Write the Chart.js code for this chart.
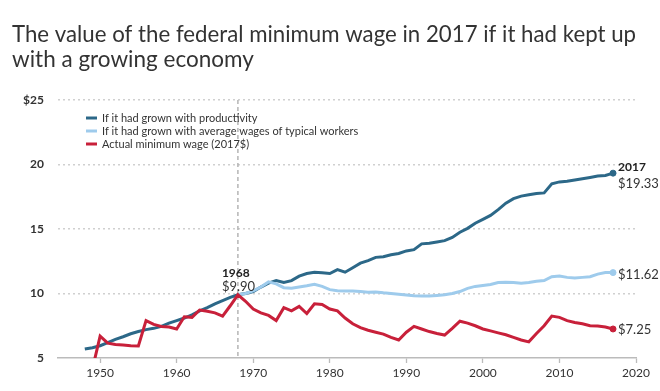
<!DOCTYPE html>
<html>
<head>
<meta charset="utf-8">
<script src="https://cdn.jsdelivr.net/npm/chart.js@4.4.1/dist/chart.umd.min.js"></script>
<style>
  body { margin: 0; background: #fff; }
  #wrap { width: 660px; height: 391px; position: relative; }
</style>
</head>
<body>
<div id="wrap"><canvas id="myChart"></canvas></div>
<script>
// values in 2017 dollars
const years = [
  1948, 1949, 1950, 1951, 1952, 1953, 1954, 1955, 1956, 1957,
  1958, 1959, 1960, 1961, 1962, 1963, 1964, 1965, 1966, 1967,
  1968, 1969, 1970, 1971, 1972, 1973, 1974, 1975, 1976, 1977,
  1978, 1979, 1980, 1981, 1982, 1983, 1984, 1985, 1986, 1987,
  1988, 1989, 1990, 1991, 1992, 1993, 1994, 1995, 1996, 1997,
  1998, 1999, 2000, 2001, 2002, 2003, 2004, 2005, 2006, 2007,
  2008, 2009, 2010, 2011, 2012, 2013, 2014, 2015, 2016, 2017
];

const productivity = [
  5.7, 5.8, 5.95, 6.2, 6.45, 6.65, 6.88, 7.05, 7.2, 7.3,
  7.45, 7.7, 7.9, 8.1, 8.35, 8.65, 8.9, 9.2, 9.45, 9.7,
  9.9, 10.0, 10.15, 10.5, 10.8, 11.0, 10.85, 11.0, 11.35, 11.55,
  11.65, 11.6, 11.55, 11.85, 11.65, 12.0, 12.35, 12.55, 12.8, 12.85,
  13.0, 13.1, 13.3, 13.4, 13.85, 13.9, 14.0, 14.1, 14.35, 14.75,
  15.05, 15.45, 15.75, 16.05, 16.5, 17.0, 17.35, 17.55, 17.65, 17.75,
  17.8, 18.5, 18.65, 18.7, 18.8, 18.9, 19.0, 19.1, 19.15, 19.33
];

const typicalWages = [
  null, null, null, null, null, null, null, null, null, null,
  null, null, null, null, null, null, null, null, null, null,
  9.9, 10.0, 10.2, 10.5, 10.9, 10.75, 10.45, 10.4, 10.5, 10.6,
  10.72, 10.55, 10.3, 10.22, 10.2, 10.2, 10.15, 10.1, 10.12, 10.05,
  10.0, 9.95, 9.88, 9.82, 9.8, 9.8, 9.85, 9.9, 10.0, 10.15,
  10.4, 10.55, 10.62, 10.7, 10.85, 10.88, 10.85, 10.8, 10.85, 10.95,
  11.0, 11.3, 11.35, 11.25, 11.2, 11.25, 11.3, 11.5, 11.62, 11.62
];

const minimumWage = [
  null, 4.15, 6.7, 6.15, 6.05, 6.0, 5.95, 5.93, 7.9, 7.6,
  7.45, 7.4, 7.25, 8.2, 8.15, 8.72, 8.62, 8.5, 8.25, 9.05,
  9.9, 9.4, 8.8, 8.5, 8.3, 7.9, 8.9, 8.65, 9.0, 8.45,
  9.2, 9.15, 8.8, 8.65, 8.1, 7.65, 7.35, 7.15, 7.0, 6.85,
  6.6, 6.4, 7.0, 7.45, 7.25, 7.05, 6.9, 6.78, 7.3, 7.85,
  7.7, 7.5, 7.25, 7.1, 6.95, 6.8, 6.6, 6.4, 6.25, 6.9,
  7.5, 8.25, 8.15, 7.9, 7.75, 7.65, 7.5, 7.48, 7.4, 7.25
];

const seriesLabels = [
  'If it had grown with productivity',
  'If it had grown with average wages of typical workers',
  'Actual minimum wage (2017$)'
];
const seriesColors = ['#2c6888', '#9ecbec', '#c8203a'];

const xTicks = [1950, 1960, 1970, 1980, 1990, 2000, 2010, 2020];
const yTicks = [5, 10, 15, 20, 25];

const markYear = 1968;
const endYear = 2017;

const FONT = 'Lato, "Open Sans", sans-serif';

function toPoints(values) {
  let pts = [];
  values.forEach((v, i) => {
    if (v !== null) pts.push({ x: years[i], y: v });
  });
  return pts;
}

function lastDot(ctx) {
  return ctx.dataIndex === ctx.dataset.data.length - 1 ? 3 : 0;
}

function makeDataset(values, i) {
  return {
    label: seriesLabels[i],
    data: toPoints(values),
    borderColor: seriesColors[i],
    backgroundColor: seriesColors[i],
    borderWidth: 3,
    pointRadius: lastDot,
    pointBorderWidth: 1,
    pointHoverRadius: 0,
    tension: 0,
    order: 2 - i
  };
}

function money(v) {
  return '$' + v.toFixed(2);
}

// dashed 1968 line, drawn behind the series
const markLine = {
  id: 'markLine',
  beforeDatasetsDraw(chart) {
    const { ctx, chartArea, scales } = chart;
    const x = scales.x.getPixelForValue(markYear);
    ctx.save();
    ctx.strokeStyle = '#aaa';
    ctx.lineWidth = 1.3;
    ctx.setLineDash([4, 3]);
    ctx.beginPath();
    ctx.moveTo(x, chartArea.top);
    ctx.lineTo(x, chartArea.bottom);
    ctx.stroke();
    ctx.restore();
  }
};

// legend inside the plot + value labels
const labelsPlugin = {
  id: 'labelsPlugin',
  afterDatasetsDraw(chart) {
    const { ctx, chartArea, scales } = chart;
    ctx.save();

    // legend
    ctx.font = '11px ' + FONT;
    ctx.textBaseline = 'middle';
    ctx.textAlign = 'left';
    seriesLabels.forEach((lab, i) => {
      const y = chartArea.top + 18 + i * 13;
      const x = chartArea.left + 28;
      ctx.strokeStyle = seriesColors[i];
      ctx.lineWidth = 3;
      ctx.beginPath();
      ctx.moveTo(x, y);
      ctx.lineTo(x + 11, y);
      ctx.stroke();
      ctx.fillStyle = '#333';
      ctx.fillText(lab, x + 16, y + 0.5);
    });

    // 1968 label
    const iMark = years.indexOf(markYear);
    const mx = scales.x.getPixelForValue(markYear);
    const my = scales.y.getPixelForValue(minimumWage[iMark]);
    ctx.fillStyle = '#222';
    ctx.font = 'bold 12px ' + FONT;
    ctx.fillText(String(markYear), mx - 16, my - 22);
    ctx.font = '13px ' + FONT;
    ctx.fillStyle = '#333';
    ctx.fillText(money(minimumWage[iMark]), mx - 16, my - 8);

    // end labels
    const iEnd = years.indexOf(endYear);
    const ex = scales.x.getPixelForValue(endYear) + 5;
    const yp = scales.y.getPixelForValue(productivity[iEnd]);
    ctx.font = 'bold 12px ' + FONT;
    ctx.fillStyle = '#222';
    ctx.fillText(String(endYear), ex, yp - 6);
    ctx.font = '13px ' + FONT;
    ctx.fillStyle = '#333';
    ctx.fillText(money(productivity[iEnd]), ex, yp + 11);
    ctx.fillText(money(typicalWages[iEnd]), ex, scales.y.getPixelForValue(typicalWages[iEnd]) + 2);
    ctx.fillText(money(minimumWage[iEnd]), ex, scales.y.getPixelForValue(minimumWage[iEnd]) + 1);

    ctx.restore();
  }
};

const myChartElement = document.getElementById('myChart');

let myChart = new Chart(myChartElement, {
  type: 'line',
  data: {
    datasets: [
      makeDataset(productivity, 0),
      makeDataset(typicalWages, 1),
      makeDataset(minimumWage, 2)
    ]
  },
  options: {
    responsive: true,
    maintainAspectRatio: false,
    animation: false,
    events: [],
    layout: {
      padding: { left: 12, right: 24, top: 0, bottom: 0 }
    },
    plugins: {
      legend: { display: false },
      tooltip: { enabled: false },
      title: {
        display: true,
        text: [
          'The value of the federal minimum wage in 2017 if it had kept up',
          'with a growing economy'
        ],
        align: 'start',
        color: '#333',
        font: { family: FONT, size: 22.5, weight: 'normal', lineHeight: '25px' },
        padding: { top: 22.5, bottom: 27.5 }
      }
    },
    scales: {
      x: {
        type: 'linear',
        min: 1944.5,
        max: 2020,
        afterBuildTicks: (scale) => {
          scale.ticks = xTicks.map(v => ({ value: v }));
        },
        afterFit: (scale) => { scale.height = 33; },
        grid: {
          drawOnChartArea: false,
          drawTicks: true,
          tickLength: 5,
          tickColor: '#bbb',
          tickWidth: 1.3
        },
        border: { display: true, color: '#bbb', width: 1.5 },
        ticks: {
          padding: 3,
          color: '#333',
          font: { family: FONT, size: 12 },
          callback: (v) => String(v)
        }
      },
      y: {
        min: 5,
        max: 25,
        afterBuildTicks: (scale) => {
          scale.ticks = yTicks.map(v => ({ value: v }));
        },
        afterFit: (scale) => { scale.width = 46; },
        grid: {
          drawTicks: false,
          lineWidth: 1.5,
          color: (c) => (c.tick && c.tick.value === 5) ? 'rgba(0,0,0,0)' : '#d0d0d0'
        },
        border: { display: false, dash: [2, 3] },
        ticks: {
          padding: 14,
          color: '#333',
          font: { family: FONT, size: 12, weight: 'bold' },
          callback: (v) => v === 25 ? '$25' : String(v)
        }
      }
    }
  },
  plugins: [markLine, labelsPlugin]
});
</script>
</body>
</html>
